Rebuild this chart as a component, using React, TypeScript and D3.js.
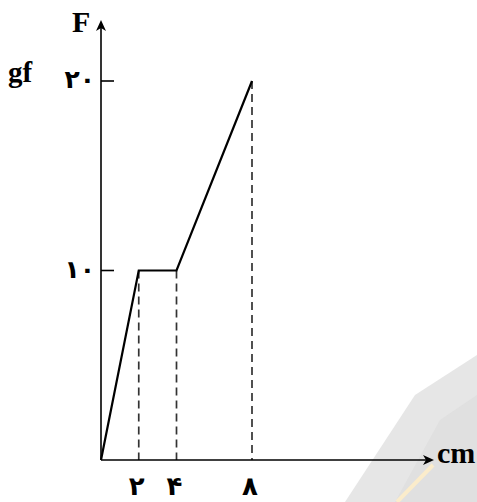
import React from 'react';
import * as d3 from 'd3';

// force vs. extension readings
const extension = [0, 2, 4, 8];
const force = [0, 10, 10, 20];
const xTicks = [2, 4, 8];
const xTickLabels = ['۲', '۴', '۸'];
const yTicks = [10, 20];
const yTickLabels = ['۱۰', '۲۰'];

const W = 477;
const H = 502;
const font = '"Liberation Serif", "DejaVu Serif", "DejaVu Sans", serif';

export default function App() {
  const x = d3.scaleLinear().domain([0, 8]).range([101, 252]);
  const y = d3.scaleLinear().domain([0, 20]).range([460, 81]);
  const pts = extension.map((e, i) => [e, force[i]] as [number, number]);
  const line = d3
    .line<[number, number]>()
    .x(d => x(d[0]))
    .y(d => y(d[1]));

  const x0 = x(0);
  const y0 = y(0);

  return (
    <svg
      width={W}
      height={H}
      style={{ position: 'absolute', left: 0, top: 0, background: '#fff' }}
    >
      {/* watermark */}
      <polygon points="415,395 477,355 477,502 345,502" fill="#e6e6e6" />
      <polygon points="440,420 477,395 477,502 395,502" fill="#dadada" opacity={0.5} />
      <line x1={433} y1={465} x2={397} y2={502} stroke="#fbeccb" strokeWidth={4} />

      {/* dashed drop lines */}
      {extension.slice(1).map((e, i) => (
        <line
          key={i}
          x1={x(e)}
          x2={x(e)}
          y1={y(force[i + 1])}
          y2={y0}
          stroke="#333"
          strokeWidth={1.7}
          strokeDasharray="8,5"
        />
      ))}

      {/* axes */}
      <line x1={x0} y1={y0} x2={428} y2={y0} stroke="#000" strokeWidth={1.6} />
      <path d={`M434,${y0} L423,${y0 - 5} L426,${y0} L423,${y0 + 5} Z`} fill="#000" />
      <line x1={x0} y1={y0} x2={x0} y2={27} stroke="#000" strokeWidth={1.6} />
      <path d={`M${x0},20 L${x0 - 5},31 L${x0},28 L${x0 + 5},31 Z`} fill="#000" />

      {yTicks.map((t, i) => (
        <g key={t}>
          <line x1={x0} x2={x0 + 13} y1={y(t)} y2={y(t)} stroke="#000" strokeWidth={1.6} />
          <text
            x={x0 - 6}
            y={y(t) + 7}
            textAnchor="end"
            fontFamily={font}
            fontWeight="bold"
            fontSize={25}
          >
            {yTickLabels[i]}
          </text>
        </g>
      ))}

      {xTicks.map((t, i) => (
        <text
          key={t}
          x={x(t) - 2}
          y={y0 + 35}
          textAnchor="middle"
          fontFamily={font}
          fontWeight="bold"
          fontSize={26}
        >
          {xTickLabels[i]}
        </text>
      ))}

      <path d={line(pts) || ''} fill="none" stroke="#000" strokeWidth={2.2} />

      <text x={72} y={32} fontFamily={font} fontWeight="bold" fontSize={30}>F</text>
      <text x={8} y={82} fontFamily={font} fontWeight="bold" fontSize={29}>gf</text>
      <text x={437} y={463} fontFamily={font} fontWeight="bold" fontSize={30}>cm</text>
    </svg>
  );
}
